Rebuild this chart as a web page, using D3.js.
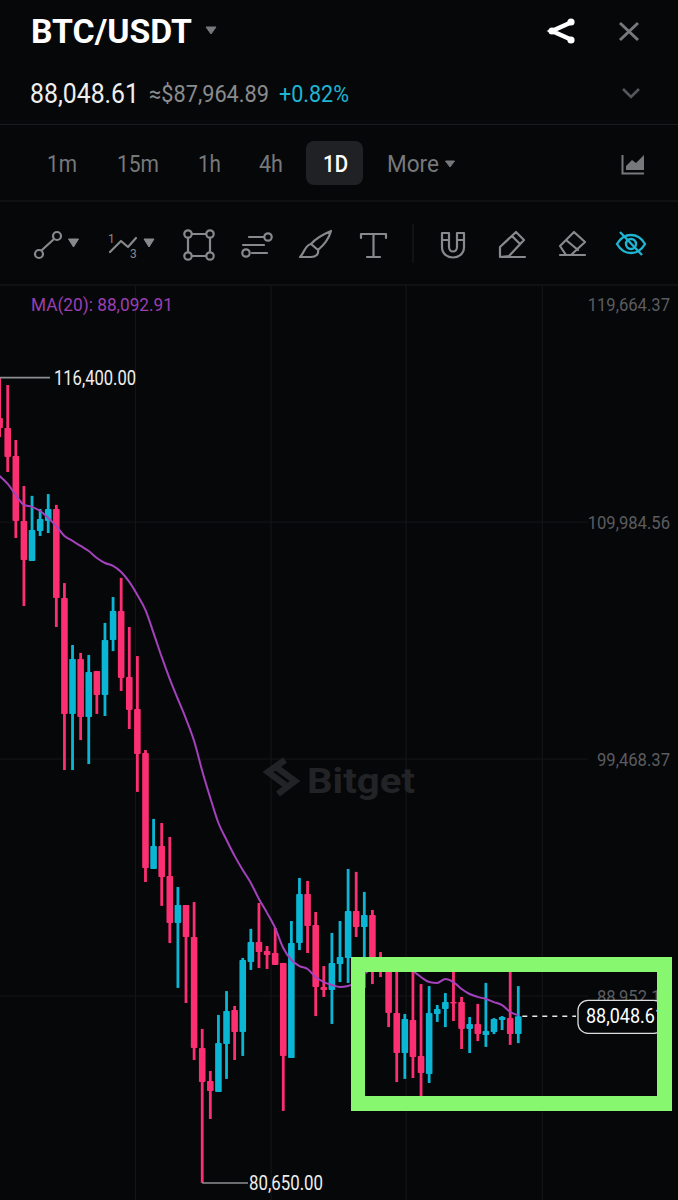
<!DOCTYPE html>
<html>
<head>
<meta charset="utf-8">
<script src="https://cdn.jsdelivr.net/npm/d3@7"></script>
<style>
  html, body { margin: 0; padding: 0; background: #060708; }
  svg { display: block; }
  text { font-family: Roboto, "Noto Sans", sans-serif; }
</style>
</head>
<body>
<svg id="chart" width="678" height="1200"></svg>
<script>
// daily candles, oldest first
const opens = [114610,114160,112920,110040,108260,109590,110040,110570,106620,101470,103910,101330,103380,102310,104750,106040,103110,101690,99740,94590,95610,94280,92190,92990,91570,86640,85180,84690,86820,88330,87350,90460,91350,90950,90860,90420,86200,91300,93480,92100,89350,89220,90370,90640,92720,92010,92550,90550,90240,88200,86420,87890,86290,85490,88150,88370,88680,88680,87490,87710,87220,87350,87890,87970,87260];
const highs = [116400,116070,113630,111590,111150,110570,111230,110750,107280,104530,104180,104090,103380,105510,106660,107510,105330,104040,99870,96810,96630,96010,93790,92990,93120,87490,85620,88110,89170,88510,90640,91930,93080,91170,91970,90420,92280,94190,94060,92680,90280,91750,92280,94590,94460,93570,92770,90900,90640,90330,88150,90330,89480,89390,88550,89080,90190,88910,88020,88600,89530,87970,88060,90190,89390];
const lows = [113760,112210,109280,106260,108260,109370,109500,105330,98980,98980,100310,99250,101470,101380,104260,102490,100800,98010,94010,94590,92950,91300,89310,88640,86110,80650,83490,84690,85270,86110,86290,90110,90190,90150,90330,83850,86200,90990,90860,88060,88910,87710,89570,89530,91570,89310,89480,89790,87570,85130,85270,85310,84470,85090,87800,87570,87840,86600,86420,86950,86690,87260,87440,86780,86860];
const closes = [114160,112880,110040,108300,109640,110120,110570,106620,101470,103910,101330,103330,102310,104750,106040,103070,101650,99690,94630,95610,94230,92190,92990,91570,86640,85130,84730,86860,88290,87350,90550,91350,90900,90770,90330,86290,91300,93480,92060,89350,89220,90420,90680,92720,92010,92550,90550,90240,88200,86420,87930,86240,85530,88200,88370,88680,88640,87490,87710,87260,87400,87930,88020,87260,88048.61];
const ma20 = [112030,111680,111190,110750,110660,110480,110170,109810,109370,109150,108930,108700,108390,108170,108040,107770,107330,106750,106080,105060,104000,103020,102130,101250,100270,98940,97740,96630,95880,95170,94540,93970,93260,92640,91970,91080,90550,90280,90150,89790,89570,89440,89350,89390,89570,89930,90190,90330,90370,90370,90280,90060,89790,89570,89530,89710,89570,89260,89040,88910,88820,88680,88550,88240,88092.91];

const priceTicks = [119664.37, 109984.56, 99468.37, 88952.1];
const priceTickLabels = ["119,664.37", "109,984.56", "99,468.37", "88,952.1"];
const timeGrid = [16.75, 33.5, 50.15, 66.95];
const intervals = ["1m", "15m", "1h", "4h", "1D", "More"];
const lastPrice = 88048.61;
const highMark = 116400;
const lowMark = 80650;

const BG = "#060708", PINK = "#fb2f72", TEAL = "#0bb6d4", PURPLE = "#a441bd";
const GREEN = "#87f76f", GRID = "#16171a", GREY = "#77787b";

const svg = d3.select("#chart");
const x = d3.scaleLinear().domain([0, 64]).range([-0.4, 518.3]);
const y = d3.scaleLinear().domain([highMark, lowMark]).range([377.6, 1183]);

svg.append("rect").attr("width", 678).attr("height", 1200).attr("fill", BG);

function label(px, py, str, size, fill, width, weight, anchor) {
  const t = svg.append("text")
    .attr("x", px).attr("y", py)
    .attr("font-size", size).attr("fill", fill)
    .attr("font-weight", weight || 400)
    .attr("text-anchor", anchor || "start")
    .text(str);
  if (width) t.attr("textLength", width).attr("lengthAdjust", "spacingAndGlyphs");
  return t;
}

function caret(cx, top, w, h, fill) {
  svg.append("path")
    .attr("d", `M${cx - w / 2},${top}h${w}l${-w / 2},${h}z`)
    .attr("fill", fill).attr("stroke", fill).attr("stroke-linejoin", "round").attr("stroke-width", 1);
}

function hrule(py) {
  svg.append("line").attr("x1", 0).attr("x2", 678).attr("y1", py).attr("y2", py)
    .attr("stroke", "#1b1c1f").attr("stroke-width", 1.2);
}

// header
label(31, 43, "BTC/USDT", 33, "#fff", 161, 700);
caret(211, 27, 10, 7, GREY);
const share = svg.append("g").attr("fill", "none").attr("stroke", "#fff").attr("stroke-width", 4.5);
share.append("path").attr("d", "M572,22L552,31L572,40");
svg.append("g").attr("fill", "#fff").selectAll("circle")
  .data([[552, 31], [571, 22], [571, 40]]).join("circle")
  .attr("cx", d => d[0]).attr("cy", d => d[1]).attr("r", 3.6);
svg.append("path").attr("d", "M620,23L638,40M638,23L620,40").attr("stroke", GREY).attr("stroke-width", 3).attr("fill", "none");

label(30, 103, "88,048.61", 27, "#eeeeee", 109);
label(149, 102, "≈$87,964.89", 23, "#8a8b8e", 120);
label(279, 102, "+0.82%", 23, "#1fb4d2", 70);
svg.append("path").attr("d", "M623,89L631,97L639,89").attr("stroke", "#55565a").attr("stroke-width", 2.6).attr("fill", "none");
hrule(124.5);

// interval tabs
const tabX = [47, 117, 198, 259, 323, 387];
const tabW = [30, 42, 23, 24, 25, 52];
svg.append("rect").attr("x", 306).attr("y", 141).attr("width", 57).attr("height", 44).attr("rx", 8).attr("fill", "#1f2125");
intervals.forEach((d, i) => label(tabX[i], 172, d, 23, d === "1D" ? "#fff" : "#77787b", tabW[i], d === "1D" ? 500 : 400));
caret(450, 161, 9, 6, GREY);
svg.append("path").attr("d", "M622.5,155V173.5H644").attr("stroke", "#77787b").attr("stroke-width", 2).attr("fill", "none");
svg.append("path").attr("d", "M626,170V166L632,160L636,163L644,155V170Z").attr("fill", "#77787b");
hrule(201);

// drawing toolbar
const tool = svg.append("g").attr("fill", "none").attr("stroke", "#88898c").attr("stroke-width", 2.2).attr("stroke-linejoin", "round").attr("stroke-linecap", "round");
tool.append("path").attr("d", "M42,250L54,239");
tool.append("circle").attr("cx", 39).attr("cy", 254).attr("r", 4);
tool.append("circle").attr("cx", 57).attr("cy", 236).attr("r", 4);
caret(73.5, 239, 10, 8, "#88898c");
tool.append("path").attr("d", "M110,252L121,241L128,247L136,238");
label(108, 243, "1", 12, "#88898c");
label(130, 258, "3", 12, "#88898c");
caret(149, 239, 10, 8, "#88898c");
tool.append("path").attr("d", "M192,234H206M192,256H206M188,238V252M210,238V252");
[[188, 234], [210, 234], [188, 256], [210, 256]].forEach(d => tool.append("circle").attr("cx", d[0]).attr("cy", d[1]).attr("r", 3.7));
tool.append("path").attr("d", "M249,237H264M249,245H264M252,253H267M243,245H248");
tool.append("circle").attr("cx", 268).attr("cy", 237).attr("r", 3.7);
tool.append("circle").attr("cx", 246).attr("cy", 253).attr("r", 3.7);
tool.append("path").attr("d", "M331,231C329,238 324,245 318,250L311,244C316,238 324,234 331,231ZM311,244C305,245 305,252 300,257H311C316,257 319,254 318,250");
tool.append("path").attr("d", "M361,238V234H386V238M373.5,234V257M367,257H380");
svg.append("line").attr("x1", 413).attr("x2", 413).attr("y1", 224).attr("y2", 263).attr("stroke", "#1b1c1f").attr("stroke-width", 1.2);
tool.append("path").attr("d", "M442,233H449V247C449,253 457,253 457,247V233H464V247C464,261 442,261 442,247ZM442,240H449M457,240H464");
tool.append("path").attr("d", "M500,257V247L516,232L524,240L509,256L500,257M512,236L520,244M500,257H525");
tool.append("path").attr("d", "M560,246L574,232L585,242L571,255H566ZM566,240L578,250M560,255H585");
const eye = svg.append("g").attr("fill", "none").attr("stroke", "#1fb4d2").attr("stroke-width", 2.4);
eye.append("path").attr("d", "M617,244C624,232 638,232 645,244C638,256 624,256 617,244Z");
eye.append("circle").attr("cx", 631).attr("cy", 244).attr("r", 5);
eye.append("path").attr("d", "M620,232L642,255");
hrule(285);

// grid
svg.append("g").selectAll("line").data(timeGrid).join("line")
  .attr("x1", d => x(d)).attr("x2", d => x(d)).attr("y1", 285).attr("y2", 1200)
  .attr("stroke", GRID).attr("stroke-width", 1);
svg.append("g").selectAll("line").data(priceTicks.slice(1)).join("line")
  .attr("x1", 0).attr("x2", 588).attr("y1", d => y(d)).attr("y2", d => y(d))
  .attr("stroke", GRID).attr("stroke-width", 1);

// watermark
const mark = svg.append("g").attr("fill", "none").attr("stroke", "#222326").attr("stroke-width", 6.5).attr("stroke-linejoin", "miter");
mark.append("path").attr("d", "M285,760L268,772L288,787");
mark.append("path").attr("d", "M278,794L295,781L276,767");
label(307, 793, "Bitget", 35, "#222326", 108, 700);

// axis labels, squeezed sideways because the original face is a narrow one
priceTicks.forEach((d, i) => {
  // the last one runs under the green box, so it is placed from its left edge
  const anchor = i === 3 ? "start" : "end";
  const left = i === 3 ? 597 : 670;
  svg.append("text")
    .attr("transform", `translate(${left},${y(d) + 7}) scale(0.875,1)`)
    .attr("font-size", 19).attr("fill", "#5b5c60").attr("text-anchor", anchor)
    .text(priceTickLabels[i]);
});
label(31, 311, "MA(20): 88,092.91", 19, "#9a3fb2", 142);

// candles
const idx = d3.range(opens.length);
const colorOf = i => closes[i] >= opens[i] ? TEAL : PINK;
svg.append("g").selectAll("rect").data(idx).join("rect")
  .attr("x", i => x(i) - 1.4).attr("width", 2.8)
  .attr("y", i => y(highs[i])).attr("height", i => y(lows[i]) - y(highs[i]))
  .attr("fill", colorOf);
svg.append("g").selectAll("rect").data(idx).join("rect")
  .attr("x", i => x(i) - 3.3).attr("width", 6.6).attr("rx", 0.8)
  .attr("y", i => y(Math.max(opens[i], closes[i])))
  .attr("height", i => Math.max(1.5, Math.abs(y(opens[i]) - y(closes[i]))))
  .attr("fill", colorOf);

// moving average
svg.append("path").datum(ma20)
  .attr("fill", "none").attr("stroke", PURPLE).attr("stroke-width", 2)
  .attr("d", d3.line().x((d, i) => x(i)).y(d => y(d)).curve(d3.curveMonotoneX));

// high and low callouts
svg.append("line").attr("x1", x(0)).attr("x2", 50).attr("y1", y(highMark)).attr("y2", y(highMark)).attr("stroke", "#8e8f92").attr("stroke-width", 1.6);
label(54, y(highMark) + 7, d3.format(",.2f")(highMark), 20, "#eeeeee", 82);
svg.append("line").attr("x1", x(25)).attr("x2", 248).attr("y1", y(lowMark)).attr("y2", y(lowMark)).attr("stroke", "#8e8f92").attr("stroke-width", 1.6);
label(249, y(lowMark) + 7, d3.format(",.2f")(lowMark), 20, "#eeeeee", 74);

// last price tag
svg.append("line").attr("x1", x(64) + 4).attr("x2", 576).attr("y1", y(lastPrice)).attr("y2", y(lastPrice))
  .attr("stroke", "#e8e8e8").attr("stroke-width", 1.5).attr("stroke-dasharray", "5,5");
svg.append("rect").attr("x", 578).attr("y", y(lastPrice) - 16).attr("width", 86).attr("height", 33).attr("rx", 10)
  .attr("fill", BG).attr("stroke", "#dddddd").attr("stroke-width", 1.3);
label(586, y(lastPrice) + 7, d3.format(",.2f")(lastPrice), 20, "#ffffff", 79);

// green highlight box drawn over the chart
svg.append("path")
  .attr("fill-rule", "evenodd").attr("fill", GREEN)
  .attr("d", "M351,957H672V1111H351ZM365,972V1096H657V972Z");
</script>
</body>
</html>
